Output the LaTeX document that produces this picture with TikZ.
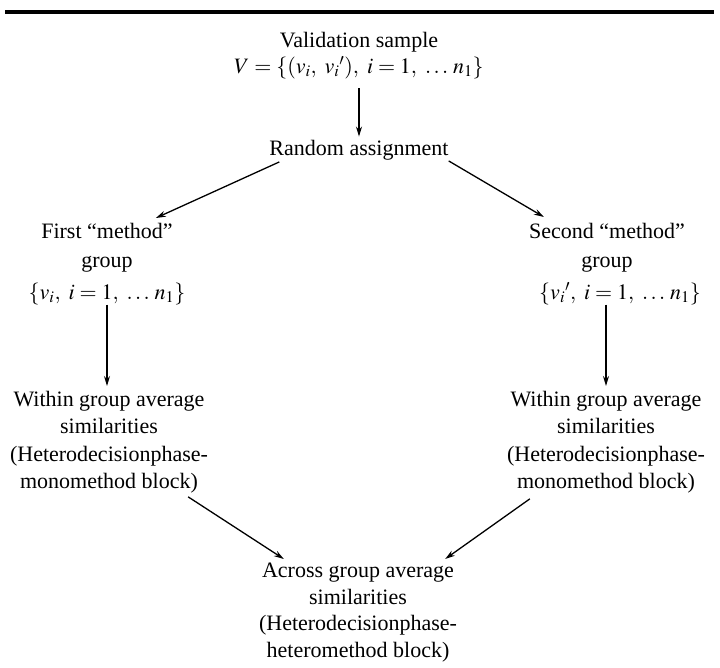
\documentclass[tikz,border=0pt]{standalone}
\usepackage{mathptmx}
\usepackage[no-math]{fontspec}
\setmainfont{Liberation Serif}
\usetikzlibrary{arrows.meta}

\begin{document}
\begin{tikzpicture}[x=1pt,y=-1pt,>={Stealth[length=10pt,width=6pt]},
  every node/.style={inner sep=0pt,align=center,font=\fontsize{22}{27.5}\selectfont},
  flow/.style={->,line width=1.3pt}]
\useasboundingbox (0,0) rectangle (720,667);
% rule above the figure
\draw[line width=3.5pt] (5,12) -- (714,12);

\node[anchor=north] (valid) at (359,32) {Validation sample\\[-1.5pt]$V = \{(v_i,\ v_i{}'),\ i = 1,\ .\,.\,.\;n_1\}$};
\node[anchor=base] (rand) at (359,155) {Random assignment};
\node[anchor=north] (first) at (107,223) {First ``method''\\[1.5pt]group};
\node[anchor=north] (second) at (607,223) {Second ``method''\\[1.5pt]group};
\node[anchor=base] (setL) at (107,299) {$\{v_i,\ i = 1,\ .\,.\,.\;n_1\}$};
\node[anchor=base] (setR) at (620,299) {$\{v_i{}',\ i = 1,\ .\,.\,.\;n_1\}$};
\node[anchor=north] (withinL) at (109,391) {Within group average\\similarities\\(Heterodecisionphase-\\monomethod block)};
\node[anchor=north] (withinR) at (606,391) {Within group average\\similarities\\(Heterodecisionphase-\\monomethod block)};
\node[anchor=north] (across) at (358,563) {Across group average\\[-1pt]similarities\\[-1pt](Heterodecisionphase-\\[-1pt]heteromethod block)};

\draw[flow,shorten <=9pt,shorten >=3pt] (valid.south) -- (valid.south |- rand.north);
\draw[flow] ([xshift=10pt,yshift=-2pt]rand.south west) -- ([xshift=-17pt,yshift=5pt]first.north east);
\draw[flow] ([yshift=-1pt]rand.south east) -- ([xshift=15pt,yshift=6pt]second.north west);
\draw[flow,shorten >=5pt] (setL.south) -- (setL.south |- withinL.north);
\draw[flow,shorten >=5pt] (withinR.north |- setR.south) -- (withinR.north);
\draw[flow] ([xshift=-20pt,yshift=-3pt]withinL.south east) -- ([xshift=25pt,yshift=4pt]across.north west);
\draw[flow] ([xshift=23pt,yshift=-5pt]withinR.south west) -- ([xshift=-12pt,yshift=4pt]across.north east);
\end{tikzpicture}
\end{document}
